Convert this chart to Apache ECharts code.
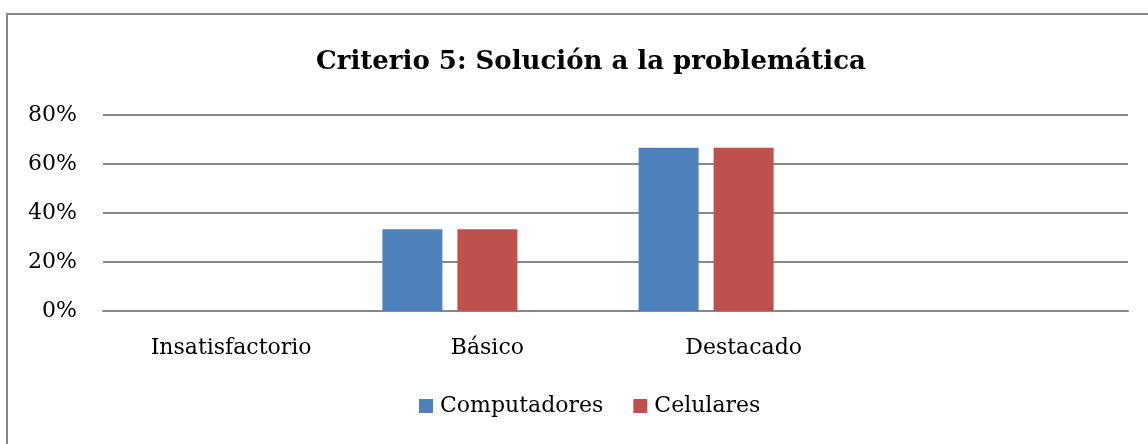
<!DOCTYPE html>
<html>
<head>
<meta charset="utf-8">
<script src="https://cdn.jsdelivr.net/npm/echarts@6/dist/echarts.min.js"></script>
<style>
  html, body { margin: 0; padding: 0; background: #fff; }
  #chart { width: 1148px; height: 444px; }
</style>
</head>
<body>
<div id="chart"></div>
<script>
  const categories = ['Insatisfactorio', 'Básico', 'Destacado', ''];
  const computadores = [0, 33.33, 66.67, null];
  const celulares = [0, 33.33, 66.67, null];
  // third, unnamed series in the source: empty, but it keeps its slot in each group
  const serie3 = [null, null, null, null];
  const yTicks = [0, 20, 40, 60, 80];

  const font = 'DejaVu Serif';
  const chart = echarts.init(document.getElementById('chart'));
  chart.setOption({
    backgroundColor: '#ffffff',
    animation: false,
    graphic: [{
      type: 'rect',
      shape: {x: 7, y: 14, width: 1160, height: 460},
      style: {fill: 'none', stroke: '#888888', lineWidth: 2}
    }],
    title: {
      text: 'Criterio 5: Solución a la problemática',
      left: 311,
      top: 44,
      textStyle: {fontFamily: font, fontWeight: 'bold', fontSize: 26, color: '#000'}
    },
    legend: {
      data: ['Computadores', 'Celulares'],
      bottom: 22,
      left: 414,
      itemWidth: 14,
      itemHeight: 14,
      itemGap: 30,
      icon: 'rect',
      textStyle: {fontFamily: font, fontSize: 22, color: '#000', padding: [0, 0, 0, 2]}
    },
    grid: {left: 103, right: 20, top: 115, bottom: 133},
    xAxis: {
      type: 'category',
      data: categories,
      axisLine: {lineStyle: {color: '#888888', width: 2}},
      axisTick: {show: false},
      axisLabel: {fontFamily: font, fontSize: 22, color: '#000', margin: 26}
    },
    yAxis: {
      type: 'value',
      min: yTicks[0],
      max: yTicks[yTicks.length - 1],
      interval: 20,
      axisLine: {show: false},
      axisTick: {show: false},
      axisLabel: {fontFamily: font, fontSize: 22, color: '#000', margin: 26, formatter: '{value}%',
                  padding: [8, 0, 0, 0]},
      splitLine: {lineStyle: {color: '#888888', width: 2}}
    },
    series: [
      {name: 'Computadores', type: 'bar', data: computadores, barWidth: 60, barGap: '25%',
       itemStyle: {color: '#4f81bd'}},
      {name: 'Celulares', type: 'bar', data: celulares, barWidth: 60, barGap: '25%',
       itemStyle: {color: '#c0504d'}},
      {name: 'Serie 3', type: 'bar', data: serie3, barWidth: 60, barGap: '25%',
       itemStyle: {color: '#9bbb59'}}
    ]
  });
</script>
</body>
</html>
